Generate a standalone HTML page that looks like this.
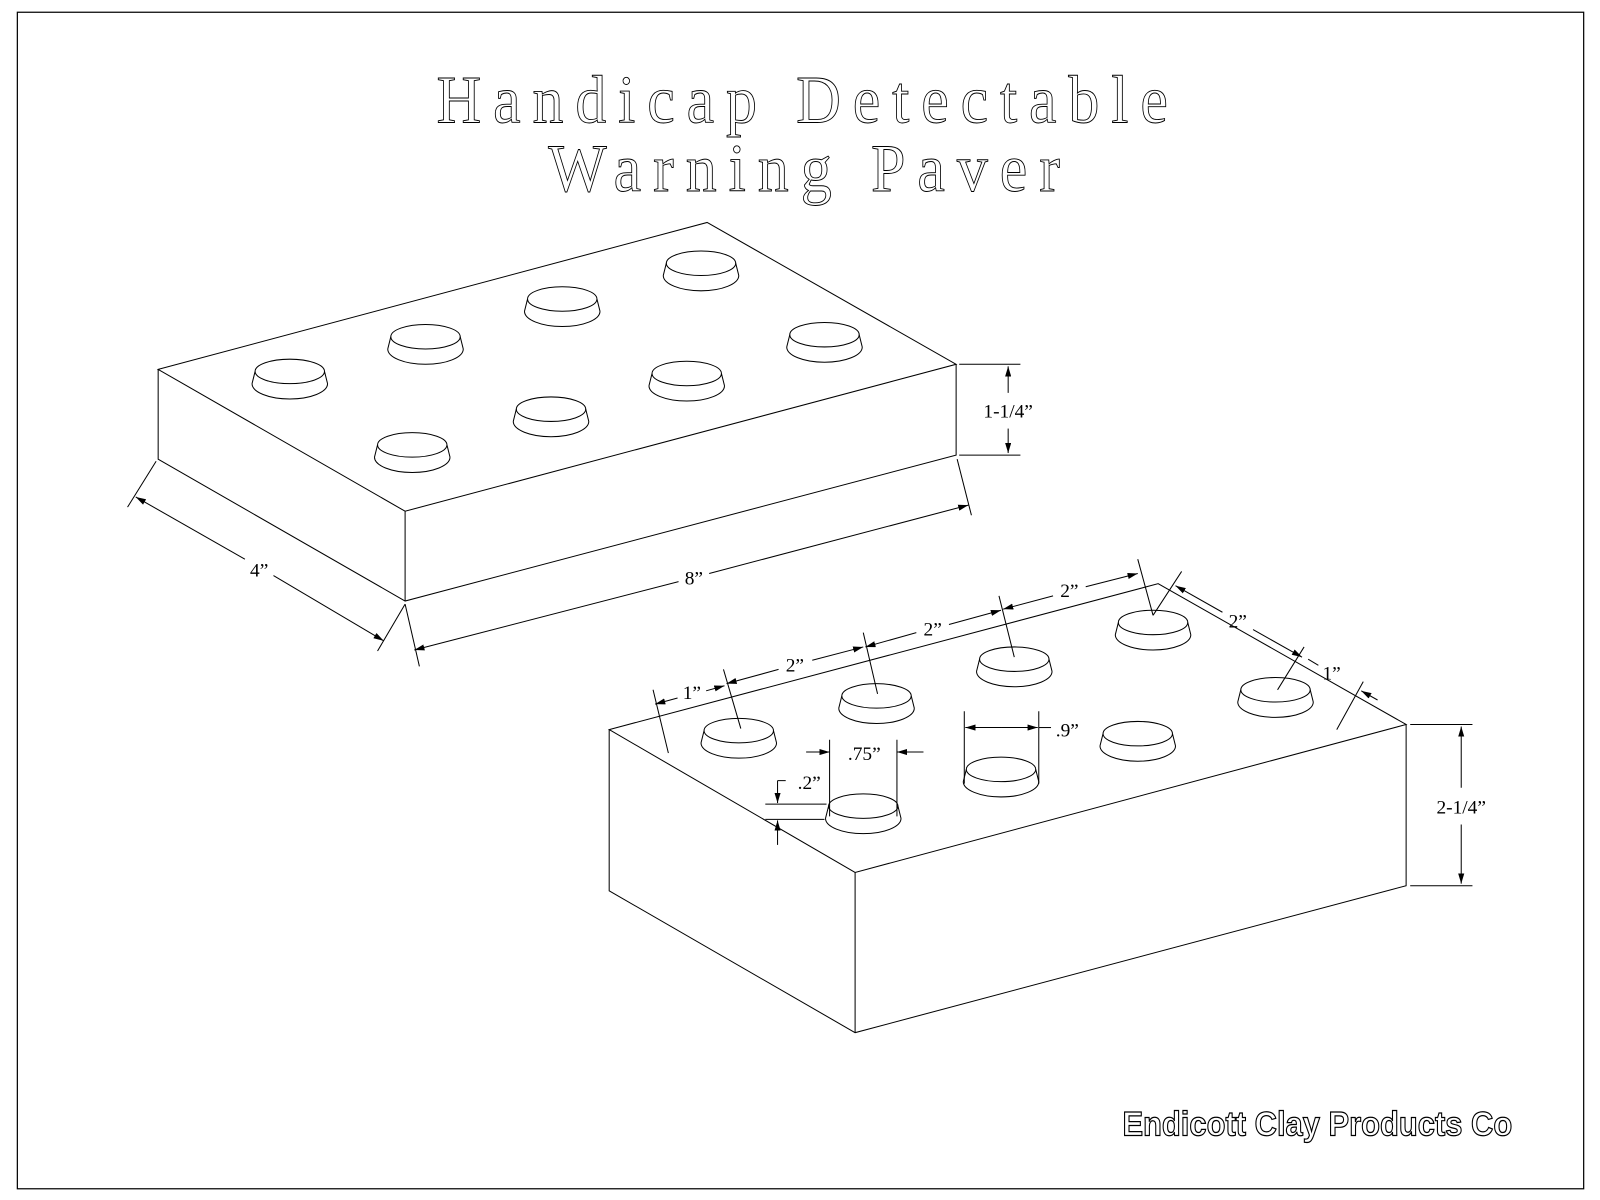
<!DOCTYPE html>
<html><head><style>html,body{margin:0;padding:0;background:#fff}svg{display:block}</style></head>
<body>
<svg width="1600" height="1200" viewBox="0 0 1568 1176" xmlns="http://www.w3.org/2000/svg">
<defs>
<marker id="a" viewBox="0 0 10 6" refX="10" refY="3" markerWidth="10" markerHeight="6" orient="auto" markerUnits="userSpaceOnUse"><path d="M0,0 L10,3 L0,6 z" fill="#000"/></marker>
<g id="s" fill="none" stroke="#000" stroke-width="1">
<ellipse cx="0" cy="0" rx="34" ry="12"/>
<path d="M-34,0 L-37,12 M34,0 L37,12 M-37,12 A37,15 0 0 0 37,12"/>
</g>
</defs>
<rect x="17" y="12" width="1535" height="1153" fill="none" stroke="#000" stroke-width="1.2"/>
<g font-family="Liberation Serif, serif" fill="#fff" stroke="#000" stroke-width="0.9" font-size="66" transform="scale(0.92,1)">
<text x="465" y="120" textLength="779" lengthAdjust="spacing">Handicap Detectable</text>
<text x="584" y="187" textLength="545" lengthAdjust="spacing">Warning Paver</text>
</g>
<g fill="none" stroke="#000" stroke-width="1">
<path d="M155,362 L693,218 L937,357 L397,501 Z M155,362 L155,450 L397,589 L937,446 L937,357 M397,501 L397,589"/>
<path d="M597,715 L1135,572 L1378,710 L838,855 Z M597,715 L597,873 L838,1012 L1378,868 L1378,710 M838,855 L838,1012"/>
</g>
<g>
<use href="#s" x="284" y="364"/><use href="#s" x="417" y="330"/><use href="#s" x="551" y="293"/><use href="#s" x="687" y="258"/>
<use href="#s" x="404" y="436"/><use href="#s" x="540" y="401"/><use href="#s" x="673" y="366"/><use href="#s" x="808" y="328"/>
<use href="#s" x="724" y="716"/><use href="#s" x="859" y="682"/><use href="#s" x="994" y="646"/><use href="#s" x="1130" y="610"/>
<use href="#s" x="846" y="790"/><use href="#s" x="981" y="754"/><use href="#s" x="1115" y="719"/><use href="#s" x="1250" y="676"/>
</g>
<g fill="none" stroke="#000" stroke-width="1">
<path d="M940,357 L1000,357 M940,446 L1000,446"/>
<path d="M988,385 L988,359" marker-end="url(#a)"/><path d="M988,420 L988,444" marker-end="url(#a)"/>
<path d="M153,452 L125,497 M397,592 L370,638"/>
<path d="M240,548 L133,487" marker-end="url(#a)"/><path d="M268,564 L376,628" marker-end="url(#a)"/>
<path d="M397,592 L411,653 M938,450 L952,505"/>
<path d="M665,570 L406,637" marker-end="url(#a)"/><path d="M695,562 L949,495" marker-end="url(#a)"/>
<path d="M655,738 L640,676 M726,714 L709,656 M860,680 L846,620 M994,644 L979,584 M1130,603 L1115,548"/>
<path d="M664,684 L642,690" marker-end="url(#a)"/><path d="M692,677 L710,672" marker-end="url(#a)"/>
<path d="M763,656 L712,670" marker-end="url(#a)"/><path d="M796,647 L846,634" marker-end="url(#a)"/>
<path d="M898,620 L848,634" marker-end="url(#a)"/><path d="M930,612 L981,598" marker-end="url(#a)"/>
<path d="M1032,584 L983,597" marker-end="url(#a)"/><path d="M1064,575 L1115,562" marker-end="url(#a)"/>
<path d="M1130,603 L1158,560 M1252,676 L1278,634 M1310,715 L1336,668"/>
<path d="M1198,600 L1152,574" marker-end="url(#a)"/><path d="M1228,617 L1276,644" marker-end="url(#a)"/>
<path d="M1282,646 L1292,652"/><path d="M1350,686 L1334,677" marker-end="url(#a)"/>
<path d="M1382,710 L1443,710 M1382,868 L1443,868"/>
<path d="M1432,772 L1432,712" marker-end="url(#a)"/><path d="M1432,808 L1432,866" marker-end="url(#a)"/>
<path d="M813,725 L813,800 M879,725 L879,800"/>
<path d="M790,737 L813,737" marker-end="url(#a)"/><path d="M905,737 L879,737" marker-end="url(#a)"/>
<path d="M945,697 L945,768 M1018,697 L1018,768"/>
<path d="M981,713 L946,713" marker-end="url(#a)"/><path d="M981,713 L1017,713" marker-end="url(#a)"/><path d="M1018,713 L1030,713"/>
<path d="M750,788 L810,788 M750,803 L808,803 M770,765 L762,765"/>
<path d="M762,765 L762,787" marker-end="url(#a)"/><path d="M762,828 L762,804" marker-end="url(#a)"/>
</g>
<g font-family="Liberation Serif, serif" font-size="19" text-anchor="middle" fill="#000">
<text x="988" y="409">1-1/4”</text>
<text x="254" y="565">4”</text>
<text x="680" y="573">8”</text>
<text x="678" y="685">1”</text>
<text x="779" y="658">2”</text>
<text x="914" y="623">2”</text>
<text x="1048" y="585">2”</text>
<text x="1213" y="615">2”</text>
<text x="1305" y="666">1”</text>
<text x="1432" y="797">2-1/4”</text>
<text x="847" y="745">.75”</text>
<text x="1046" y="722">.9”</text>
<text x="793" y="773">.2”</text>
</g>
<text x="1100" y="1113" font-family="Liberation Sans, sans-serif" font-weight="bold" font-size="34" fill="#fff" stroke="#000" stroke-width="1.2" textLength="382" lengthAdjust="spacingAndGlyphs">Endicott Clay Products Co</text>
</svg>
</body></html>
